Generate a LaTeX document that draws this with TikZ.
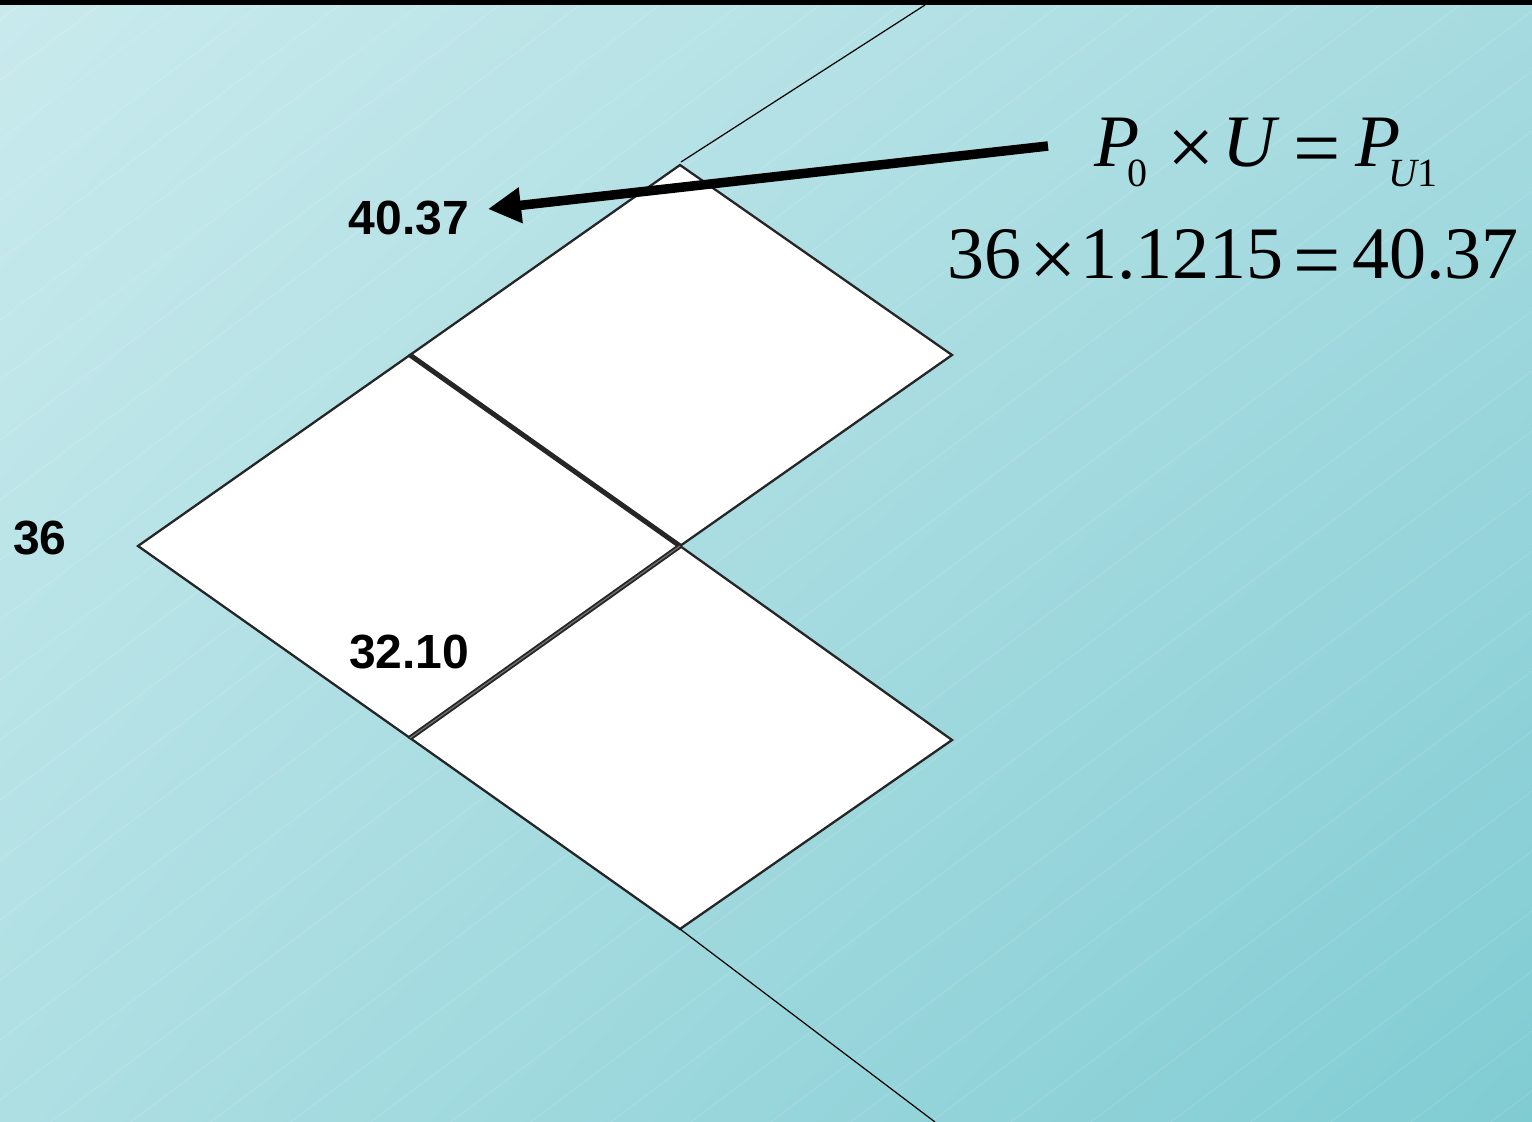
\documentclass[tikz,border=0pt]{standalone}
\usepackage{fontspec}
\setmainfont{Liberation Serif}
\newfontfamily\labelfont{Liberation Sans}[Scale=1]
\usetikzlibrary{arrows.meta,shadings}
\definecolor{bgTL}{HTML}{C9EAED}
\definecolor{bgTR}{HTML}{A6DBE0}
\definecolor{bgBL}{HTML}{AEDFE3}
\definecolor{bgBR}{HTML}{80CCD3}
\definecolor{cellline}{HTML}{262626}
\newcommand{\subtext}[2]{\kern#1\raisebox{-20pt}{\fontsize{40}{40}\selectfont #2}}
\tikzset{
  x=1pt,y=-1pt,
  cell/.style={fill=white,draw=cellline,line width=2.3pt,line join=miter},
  shared/.style={draw=cellline,line width=5pt},
  sharedinner/.style={draw=black!55,line width=1.2pt},
  branch/.style={draw=black,line width=1.2pt},
  pointer/.style={draw=black,line width=9.5pt,-{Triangle[length=33pt,width=34pt]}},
  valuelabel/.style={inner sep=0pt,anchor=base west,font=\labelfont\bfseries\fontsize{48}{48}\selectfont},
  eq/.style={inner sep=0pt,anchor=base west,font=\fontsize{74}{74}\selectfont},
  eqop/.style={inner sep=0pt,anchor=base west,font=\fontsize{84}{84}\selectfont},
  hair/.style={draw=white,opacity=.17,line width=.7pt}
}
\begin{document}
\begin{tikzpicture}
\useasboundingbox (0,0) rectangle (1532,1122);
\shade[upper left=bgTL,upper right=bgTR,lower left=bgBL,lower right=bgBR] (0,0) rectangle (1532,1122);
\begin{scope}
\clip (0,0) rectangle (1532,1122);
\foreach \c in {20,80,...,2300}{
  \draw[hair] (0,\c) -- ({\c/0.75},0);
}
\end{scope}
\fill[black] (0,0) rectangle (1532,5);

% vertices
\coordinate (t) at (680,165);
\coordinate (r) at (952,355);
\coordinate (c) at (680,546);
\coordinate (ul) at (410,355);
\coordinate (l) at (138,546);
\coordinate (ll) at (410,738);
\coordinate (br) at (952,740);
\coordinate (b) at (680,929);
\coordinate (tt) at (681,162);
\coordinate (topend) at (925,5);
\coordinate (botend) at (935,1122);

% cells
\draw[cell] (t) -- (r) -- (c) -- (ul) -- cycle;
\draw[cell] (ul) -- (c) -- (ll) -- (l) -- cycle;
\draw[cell] (c) -- (br) -- (b) -- (ll) -- cycle;
\draw[shared] (ul) -- (c);
\draw[shared] (c) -- (ll);
\draw[sharedinner] (c) -- (ll);

% branches
\draw[branch] (tt) -- (topend);
\draw[branch] (b) -- (botend);

% labels
\node[valuelabel] (v1) at (348.5,234) {40.37};
\node[valuelabel] (v2) at (13,554) {36};
\node[valuelabel] (v3) at (349,668) {32.10};

% pointer
\coordinate (ptrstart) at (1048,146);
\coordinate (ptrtip) at (488,209);
\draw[pointer] (ptrstart) -- (ptrtip);

% equation line 1
\node[eq] (p0) at (1094,166) {\itshape P\upshape\subtext{-12pt}{0}};
\node[eqop] (x1) at (1167,175.5) {×};
\node[eq] (u) at (1222,166) {\itshape U};
\node[eqop] (e1) at (1293,176) {=};
\node[eq] (p1) at (1355,166) {\itshape P\subtext{-12pt}{\itshape U\upshape 1}};
% equation line 2
\node[eq] (n1) at (947,278) {36};
\node[eqop] (x2) at (1029,287) {×};
\node[eq] (n2) at (1080,278) {1.1215};
\node[eqop] (e2) at (1293,288) {=};
\node[eq] (n3) at (1352,278) {40.37};
\end{tikzpicture}
\end{document}
